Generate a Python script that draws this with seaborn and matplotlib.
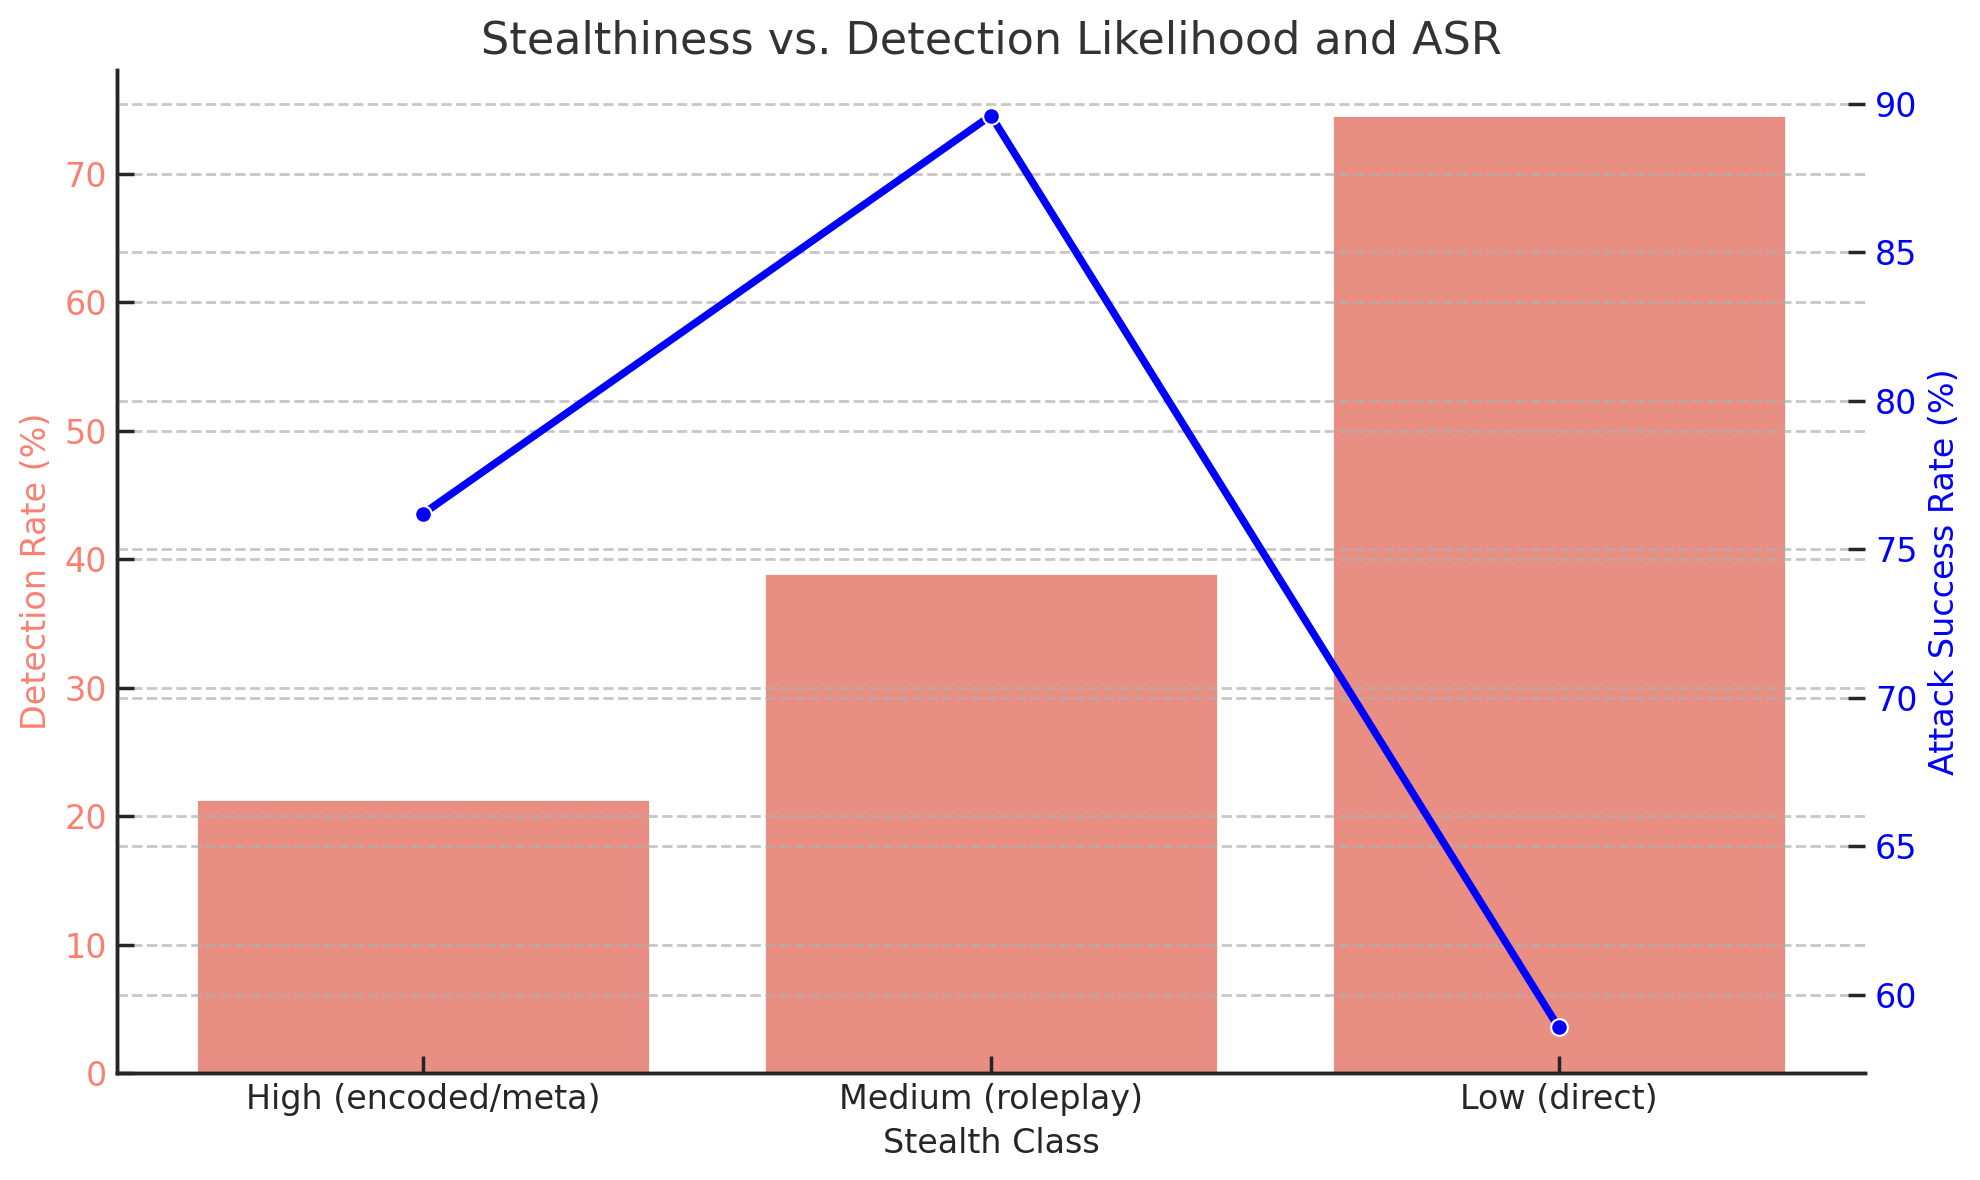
import seaborn as sns
import matplotlib.pyplot as plt
import pandas as pd

# values
stealth_class = ['High (encoded/meta)', 'Medium (roleplay)', 'Low (direct)']
detection_rate = [21.3, 38.9, 74.6]
attack_success_rate = [76.2, 89.6, 58.9]

df = pd.DataFrame({
    'Stealth Class': stealth_class,
    'Detection Rate': detection_rate,
    'ASR': attack_success_rate,
})
df['pos'] = range(len(df))

sns.set_theme(style='ticks', context='notebook',
              rc={'xtick.direction': 'in', 'ytick.direction': 'in'})

fig, ax1 = plt.subplots(figsize=(9.9, 5.9), dpi=200)

# bars: detection rate on the left axis
sns.barplot(data=df, x='Stealth Class', y='Detection Rate', color='salmon', ax=ax1)
ax1.set_xlabel('Stealth Class', fontsize=12)
ax1.set_ylabel('Detection Rate (%)', color='salmon', fontsize=12)
ax1.tick_params(axis='y', labelcolor='salmon', labelsize=12)
ax1.tick_params(axis='x', labelsize=12)
ax1.grid(axis='y', linestyle='--', color='#b0b0b0', alpha=0.7)
ax1.set_axisbelow('line')
ax1.set_ylim(0, 78.1)

# line: attack success rate on the right axis
ax2 = ax1.twinx()
sns.lineplot(data=df, x='pos', y='ASR', color='blue', marker='o',
             linewidth=2.7, markersize=6, ax=ax2)
ax2.set_ylabel('Attack Success Rate (%)', color='blue', fontsize=12)
ax2.tick_params(axis='y', labelcolor='blue', labelsize=12)
ax2.grid(axis='y', linestyle='--', color='#b0b0b0', alpha=0.7)

ax1.set_xlim(-0.54, 2.54)
ax1.set_xticks(df['pos'])
ax1.set_xticklabels(stealth_class)

sns.despine(ax=ax1)
ax2.spines[['top', 'right']].set_visible(False)

ax1.set_title('Stealthiness vs. Detection Likelihood and ASR', fontsize=16, color='.2')

fig.subplots_adjust(left=0.059, right=0.942, top=0.9407, bottom=0.0907)
fig.savefig('out.png', dpi=200)
